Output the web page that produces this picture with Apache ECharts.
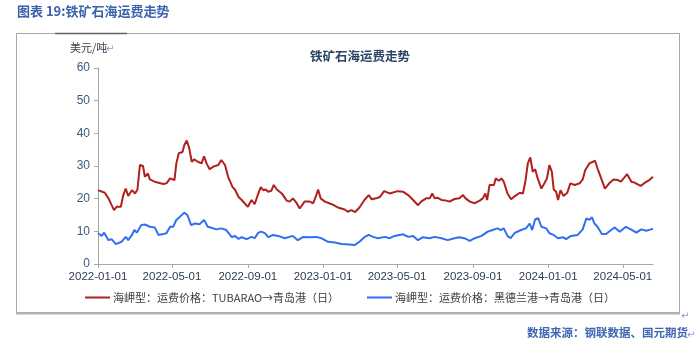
<!DOCTYPE html>
<html>
<head>
<meta charset="utf-8">
<script src="https://cdn.jsdelivr.net/npm/echarts@6/dist/echarts.min.js"></script>
<style>html,body{margin:0;padding:0;background:#fff}#c{width:700px;height:359px}</style>
</head>
<body>
<div id="c"></div>
<script>
const redName = '海岬型：运费价格：TUBARAO→青岛港（日）';
const blueName = '海岬型：运费价格：黑德兰港→青岛港（日）';
const xTickDates = ['2022-01-01','2022-05-01','2022-09-01','2023-01-01','2023-05-01','2023-09-01','2024-01-01','2024-05-01'];
const yTicks = [0,10,20,30,40,50,60];

const redDates = ['2022-01-01','2022-01-12','2022-01-18','2022-01-27','2022-01-31','2022-02-07','2022-02-11','2022-02-15','2022-02-19','2022-02-25','2022-03-02','2022-03-06','2022-03-10','2022-03-15','2022-03-18','2022-03-23','2022-03-26','2022-04-03','2022-04-17','2022-04-22','2022-04-28','2022-05-05','2022-05-08','2022-05-12','2022-05-18','2022-05-21','2022-05-25','2022-05-29','2022-06-02','2022-06-06','2022-06-12','2022-06-18','2022-06-22','2022-06-26','2022-07-01','2022-07-07','2022-07-15','2022-07-20','2022-07-26','2022-07-31','2022-08-07','2022-08-11','2022-08-17','2022-08-22','2022-09-01','2022-09-07','2022-09-12','2022-09-18','2022-09-22','2022-09-26','2022-09-30','2022-10-04','2022-10-09','2022-10-13','2022-10-18','2022-10-26','2022-11-03','2022-11-08','2022-11-13','2022-11-19','2022-11-24','2022-12-02','2022-12-10','2022-12-16','2022-12-21','2022-12-24','2022-12-28','2023-01-04','2023-01-15','2023-01-25','2023-02-05','2023-02-10','2023-02-16','2023-02-22','2023-03-01','2023-03-09','2023-03-16','2023-03-21','2023-03-28','2023-04-03','2023-04-10','2023-04-19','2023-05-02','2023-05-11','2023-05-19','2023-05-27','2023-06-04','2023-06-09','2023-06-17','2023-06-23','2023-06-27','2023-07-01','2023-07-05','2023-07-12','2023-07-20','2023-07-25','2023-08-02','2023-08-10','2023-08-16','2023-08-20','2023-08-27','2023-09-04','2023-09-12','2023-09-17','2023-09-21','2023-09-24','2023-09-28','2023-10-05','2023-10-08','2023-10-13','2023-10-17','2023-10-21','2023-10-27','2023-11-02','2023-11-08','2023-11-16','2023-11-21','2023-11-25','2023-11-29','2023-12-03','2023-12-07','2023-12-11','2023-12-15','2023-12-21','2023-12-26','2023-12-30','2024-01-03','2024-01-07','2024-01-10','2024-01-14','2024-01-17','2024-01-21','2024-01-26','2024-02-01','2024-02-06','2024-02-13','2024-02-21','2024-02-26','2024-03-01','2024-03-08','2024-03-17','2024-03-21','2024-03-28','2024-04-02','2024-04-09','2024-04-16','2024-04-23','2024-04-28','2024-05-08','2024-05-15','2024-05-20','2024-05-30','2024-06-06','2024-06-13','2024-06-19'];
const redValues = [22.6,21.8,20.1,16.5,17.5,17.5,21.1,23.1,20.8,22.6,21.6,22.8,30.3,30.0,26.7,27.7,25.9,25.2,24.5,24.7,26.2,25.7,30.8,33.9,34.3,36.4,37.8,35.4,31.3,32.0,31.3,30.8,33.0,30.8,29.0,29.8,30.3,31.8,30.3,26.7,23.6,22.8,20.5,19.6,17.5,19.6,18.3,21.6,23.5,22.6,22.8,22.1,22.4,24.2,22.8,21.6,19.4,19.1,20.1,18.7,17.0,19.1,19.1,18.6,21.1,22.8,20.1,19.1,18.3,17.3,16.7,16.0,16.5,15.9,17.3,19.6,21.1,19.8,20.1,20.5,22.3,21.6,22.3,22.1,21.1,19.6,18.0,19.1,20.1,20.1,21.6,20.1,20.3,19.6,19.4,19.1,19.9,20.1,21.1,20.1,19.1,18.6,19.4,20.1,21.6,19.6,24.2,24.2,26.2,25.5,26.2,25.2,21.6,19.8,20.8,21.8,21.6,25.2,30.8,32.6,28.2,29.0,26.2,23.1,24.7,26.2,30.3,28.2,22.8,22.1,19.6,22.6,20.8,21.8,24.7,24.2,24.7,25.9,28.7,30.8,31.6,29.3,25.7,23.1,24.7,25.9,25.7,25.2,27.5,25.2,24.9,23.9,24.9,25.7,26.7];

const blueDates = ['2022-01-01','2022-01-07','2022-01-11','2022-01-18','2022-01-23','2022-01-30','2022-02-08','2022-02-15','2022-02-19','2022-02-25','2022-03-01','2022-03-05','2022-03-12','2022-03-18','2022-03-26','2022-04-03','2022-04-09','2022-04-17','2022-04-22','2022-04-28','2022-05-03','2022-05-08','2022-05-14','2022-05-21','2022-05-26','2022-06-01','2022-06-07','2022-06-15','2022-06-22','2022-06-28','2022-07-04','2022-07-12','2022-07-20','2022-07-28','2022-08-06','2022-08-11','2022-08-17','2022-08-22','2022-08-30','2022-09-07','2022-09-12','2022-09-18','2022-09-23','2022-09-29','2022-10-04','2022-10-12','2022-10-20','2022-10-31','2022-11-13','2022-11-21','2022-11-30','2022-12-10','2022-12-21','2022-12-29','2023-01-09','2023-01-20','2023-01-31','2023-02-13','2023-02-21','2023-03-01','2023-03-09','2023-03-16','2023-03-23','2023-03-31','2023-04-11','2023-04-19','2023-04-27','2023-05-11','2023-05-19','2023-05-27','2023-06-04','2023-06-12','2023-06-23','2023-07-01','2023-07-12','2023-07-22','2023-08-02','2023-08-10','2023-08-18','2023-08-27','2023-09-04','2023-09-15','2023-09-25','2023-10-03','2023-10-11','2023-10-16','2023-10-21','2023-10-27','2023-11-01','2023-11-08','2023-11-18','2023-11-26','2023-12-02','2023-12-06','2023-12-11','2023-12-16','2023-12-21','2023-12-29','2024-01-03','2024-01-10','2024-01-17','2024-01-25','2024-01-30','2024-02-07','2024-02-18','2024-02-26','2024-03-03','2024-03-08','2024-03-12','2024-03-16','2024-03-21','2024-03-28','2024-04-04','2024-04-12','2024-04-18','2024-04-26','2024-05-06','2024-05-14','2024-05-23','2024-05-31','2024-06-08','2024-06-16','2024-06-19'];
const blueValues = [9.4,8.6,9.6,7.3,7.6,6.1,6.8,8.3,7.3,8.9,10.4,9.6,11.9,12.1,11.4,11.2,8.9,9.2,9.4,11.4,11.4,13.5,14.5,15.7,15.0,11.9,12.4,12.2,13.5,11.4,11.1,10.6,10.9,10.4,8.2,8.6,7.7,8.2,7.6,8.3,7.9,9.6,9.9,9.4,8.2,8.9,8.6,7.9,8.6,7.3,8.3,8.2,8.3,7.9,6.8,6.6,6.1,6.0,5.8,6.8,8.2,8.9,8.3,7.9,8.3,7.9,8.6,9.1,8.3,8.6,7.3,8.2,7.9,8.3,7.9,7.3,7.9,8.2,7.9,7.1,7.9,8.6,9.9,10.4,10.9,10.4,10.9,8.6,7.9,9.5,10.4,10.9,12.4,10.4,13.7,14.0,11.4,10.9,9.4,8.9,7.9,8.2,7.6,8.6,8.9,10.6,14.0,13.5,14.3,12.4,11.4,9.2,9.2,10.4,11.2,9.9,11.4,10.6,9.6,10.6,10.2,10.6,10.8];

function ts(s){ const p = s.split('-').map(Number); return Date.UTC(p[0], p[1]-1, p[2]); }
function fmt(v){ const d = new Date(v); const m = d.getUTCMonth()+1, dd = d.getUTCDate(); return d.getUTCFullYear() + '-' + (m<10?'0':'') + m + '-' + (dd<10?'0':'') + dd; }

const chart = echarts.init(document.getElementById('c'), null, {renderer:'canvas'});
const cjk = '"Noto Sans CJK SC", "Liberation Sans", sans-serif';
const retMark = (x, y) => ({type:'text', left:x, top:y, silent:true, style:{text:'↵', fill:'#7f9fd8', font:'10px "DejaVu Sans"'}});

chart.setOption({
  animation:false,
  backgroundColor:'#fff',
  graphic:[
    {type:'rect', shape:{x:16.5, y:33.5, width:663, height:279}, style:{fill:'none', stroke:'#a8a8a8', lineWidth:1}, silent:true, z:-1},
    {type:'line', shape:{x1:55, y1:33.5, x2:127, y2:33.5}, style:{stroke:'#606060', lineWidth:1.5}, silent:true},
    {type:'line', shape:{x1:16, y1:313.5, x2:680, y2:313.5}, style:{stroke:'#b4b4b4', lineWidth:2}, silent:true},
    {type:'text', left:17, top:5, silent:true, style:{text:'图表 19:铁矿石海运费走势', fill:'#3b63ab', font:'bold 13px ' + cjk}},
    retMark(153, 8),
    {type:'text', left:310, top:50, silent:true, style:{text:'铁矿石海运费走势', fill:'#2a4564', font:'bold 12.5px ' + cjk}},
    {type:'text', left:70, top:42, silent:true, style:{text:'美元/吨', fill:'#404040', font:'11px ' + cjk}},
    retMark(106, 44),
    {type:'text', left:527, top:327, silent:true, style:{text:'数据来源：钢联数据、国元期货', fill:'#4068b0', font:'bold 11.5px ' + cjk}},
    retMark(687, 330),
    retMark(681, 311)
  ],
  grid:{left:98, top:68, right:47, bottom:95, containLabel:false},
  legend:[
    {data:[redName], left:80, top:287, icon:'rect', itemWidth:25, itemHeight:2, itemGap:10,
     textStyle:{color:'#404040', fontSize:11, fontFamily:cjk, padding:[0,0,0,-2]}},
    {data:[blueName], left:362, top:287, icon:'rect', itemWidth:25, itemHeight:2, itemGap:10,
     textStyle:{color:'#404040', fontSize:11, fontFamily:cjk, padding:[0,0,0,-2]}}
  ],
  xAxis:{
    type:'value',
    min:ts(redDates[0]), max:ts(redDates[redDates.length-1]),
    axisLine:{show:true, lineStyle:{color:'#a6a6a6', width:1}},
    axisTick:{show:true, length:4, lineStyle:{color:'#a6a6a6'}, customValues:xTickDates.map(ts)},
    axisLabel:{customValues:xTickDates.map(ts), formatter:v=>fmt(v), color:'#2e3d4f', fontSize:11.5, fontFamily:'"Liberation Sans", Arial, sans-serif', margin:7, hideOverlap:false},
    splitLine:{show:false}
  },
  yAxis:{
    type:'value', min:yTicks[0], max:yTicks[yTicks.length-1], interval:10,
    axisLine:{show:true, lineStyle:{color:'#a6a6a6', width:1}},
    axisTick:{show:true, length:4, lineStyle:{color:'#a6a6a6'}},
    axisLabel:{color:'#3a5a80', fontSize:12, fontFamily:'"Liberation Sans", Arial, sans-serif', margin:8},
    splitLine:{show:false}
  },
  series:[
    {name:redName, type:'line', symbol:'none', smooth:false,
     lineStyle:{color:'#b0201c', width:2}, itemStyle:{color:'#b0201c'},
     data:redDates.map((d,i)=>[ts(d), redValues[i]])},
    {name:blueName, type:'line', symbol:'none', smooth:false,
     lineStyle:{color:'#2f6ff0', width:2}, itemStyle:{color:'#2f6ff0'},
     data:blueDates.map((d,i)=>[ts(d), blueValues[i]])}
  ]
});
</script>
</body>
</html>
